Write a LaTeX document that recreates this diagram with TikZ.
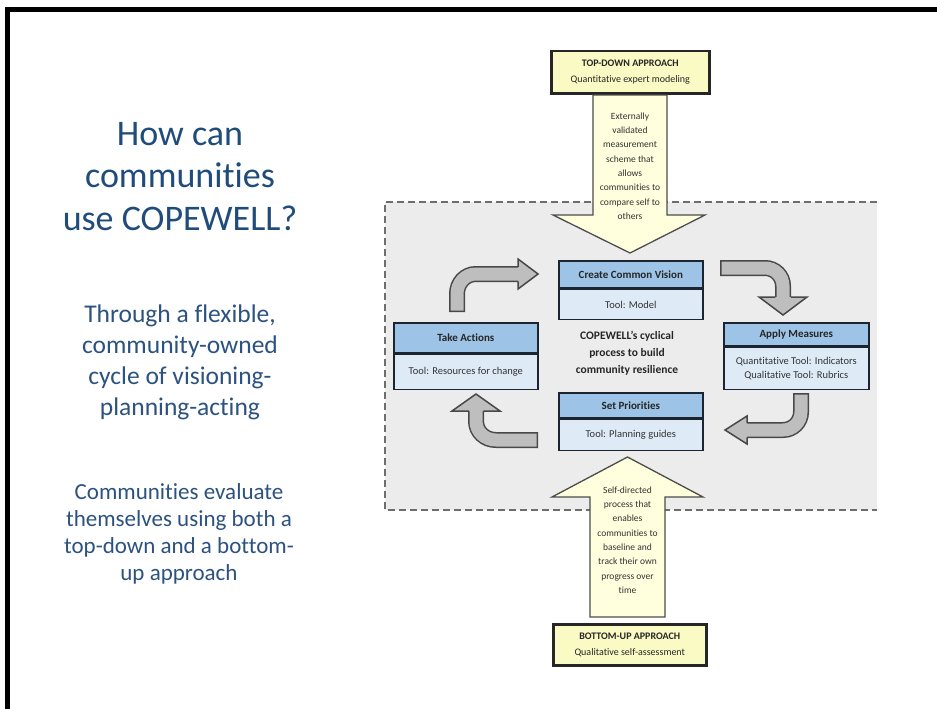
\documentclass[tikz,border=0pt]{standalone}
\usepackage{fontspec}
\setmainfont{Carlito}[Ligatures=NoCommon]
\definecolor{titleblue}{RGB}{31,76,122}
\definecolor{textblue}{RGB}{44,82,128}
\definecolor{hdrblue}{RGB}{157,195,230}
\definecolor{bodyblue}{RGB}{222,235,247}
\definecolor{boxline}{RGB}{28,36,48}
\definecolor{cream}{RGB}{255,255,222}
\definecolor{ylw}{RGB}{250,250,196}
\definecolor{regiongray}{RGB}{236,236,236}
\definecolor{dashgray}{RGB}{110,110,110}
\definecolor{arrowgray}{RGB}{190,190,190}
\definecolor{arrowline}{RGB}{72,72,72}
\tikzset{
  titletext/.style={font=\fontsize{36}{43}\selectfont, text=titleblue, inner sep=0pt},
  subtext/.style={font=\fontsize{25.5}{31}\selectfont, text=textblue, inner sep=0pt},
  paratext/.style={font=\fontsize{23}{27}\selectfont, text=textblue, inner sep=0pt},
  hdr/.style={draw=boxline, line width=1.6pt, fill=hdrblue, inner sep=0pt, minimum width=144, font=\fontsize{11}{13}\selectfont\bfseries, text=black!85},
  bdy/.style={draw=boxline, line width=1.6pt, fill=bodyblue, inner sep=0pt, minimum width=144, align=center, font=\fontsize{10.5}{14}\selectfont, text=black!80},
  ybox/.style={draw=black!85, line width=2.5pt, fill=ylw, inner sep=0pt, align=center, font=\fontsize{10}{16}\selectfont, text=black!85},
  bigarrow/.style={draw=black!70, line width=1.3pt, fill=cream, line join=miter},
  arrowtext/.style={align=center, font=\fontsize{9.5}{14.3}\selectfont, inner sep=0pt, text=black!80},
  centertext/.style={align=center, font=\fontsize{11.5}{17}\selectfont\bfseries, inner sep=0pt, text=black!85},
  shaftout/.style={line width=16pt, draw=arrowline},
  shaftin/.style={line width=13pt, draw=arrowgray, shorten <=1.5pt},
  headline/.style={draw=arrowline, line width=1.5pt, line join=miter},
  dashline/.style={draw=dashgray, line width=1.5pt, dash pattern=on 7pt off 4pt}
}
\begin{document}
\begin{tikzpicture}[x=1pt,y=-1pt]
\useasboundingbox (0,0) rectangle (937,709);
\fill[white] (0,0) rectangle (937,709);
% slide frame
\draw[line width=4.5pt, line join=miter] (940,9.5) -- (7.5,9.5) -- (7.5,712);

% left texts
\foreach \t [count=\i from 0] in {How can, communities, use COPEWELL?}
  \node[titletext, anchor=base] (title\i) at (180,{145+42.5*\i}) {\t};
\foreach \t [count=\i from 0] in {{Through a flexible,}, community-owned, cycle of visioning-, planning-acting}
  \node[subtext, anchor=base] (sub\i) at (180,{322+31*\i}) {\t};
\foreach \t [count=\i from 0] in {Communities evaluate, themselves using both a, top-down and a bottom-, up approach}
  \node[paratext, anchor=base] (para\i) at (179,{499+27*\i}) {\t};

% dashed region
\fill[regiongray] (385,202) rectangle (877,510);
\draw[dashline] (877,202) -- (385,202) -- (385,510) -- (877,510);

% top-down
\node[ybox, minimum width=158, minimum height=42, anchor=north west] (topbox) at (550,50)
  {\textbf{TOP-DOWN APPROACH}\\Quantitative expert modeling};
\draw[bigarrow] (593,95) -- (667,95) -- (667,215) -- (705,215) -- (630,253) -- (553,215) -- (593,215) -- cycle;
\node[arrowtext] (tdtext) at (630,166)
  {Externally\\validated\\measurement\\scheme that\\allows\\communities to\\compare self to\\others};

% bottom-up
\draw[bigarrow] (590,617) -- (665,617) -- (665,497) -- (703,497) -- (627.5,457) -- (552,497) -- (590,497) -- cycle;
\node[arrowtext] (butext) at (627.5,540)
  {Self-directed\\process that\\enables\\communities to\\baseline and\\track their own\\progress over\\time};
\node[ybox, minimum width=153, minimum height=41, anchor=north west] (botbox) at (552,623)
  {\textbf{BOTTOM-UP APPROACH}\\Qualitative self-assessment};

% cycle boxes
\node[hdr, minimum height=27, anchor=north west] (ccvh) at (558,260) {Create Common Vision};
\node[bdy, minimum height=30, anchor=north] (ccvb) at (ccvh.south) {Tool: Model};

\node[hdr, minimum height=30, anchor=north west] (tah) at (393,322) {Take Actions};
\node[bdy, minimum height=35, anchor=north] (tab) at (tah.south) {Tool: Resources for change};

\node[hdr, minimum width=145, minimum height=23, anchor=north west] (amh) at (723,322) {Apply Measures};
\node[bdy, minimum width=145, minimum height=42, anchor=north] (amb) at (amh.south) {Quantitative Tool: Indicators\\Qualitative Tool: Rubrics};

\node[hdr, minimum height=25, anchor=north west] (sph) at (558,392) {Set Priorities};
\node[bdy, minimum height=31, anchor=north] (spb) at (sph.south) {Tool: Planning guides};

\node[centertext] (ctext) at (627,353) {COPEWELL's cyclical\\process to build\\community resilience};

% curved block arrows
% A: Take Actions -> Create Common Vision
\coordinate (aS) at (457,312);
\coordinate (aE) at (519,274);
\draw[shaftout] (aS) -- (457,294) .. controls (457,283) and (465,274) .. (476,274) -- (aE);
\draw[shaftin]  (aS) -- (457,294) .. controls (457,283) and (465,274) .. (476,274) -- (aE);
\fill[arrowgray] (518,259) -- (538,274) -- (518,289) -- cycle;
\draw[headline] (518,266.75) -- (518,259) -- (538,274) -- (518,289) -- (518,281.25);

% B: Create Common Vision -> Apply Measures
\coordinate (bS) at (720,268);
\coordinate (bE) at (783,298);
\draw[shaftout] (bS) -- (765,268) .. controls (775,268) and (783,276) .. (783,286) -- (bE);
\draw[shaftin]  (bS) -- (765,268) .. controls (775,268) and (783,276) .. (783,286) -- (bE);
\fill[arrowgray] (759,297) -- (783,315) -- (807,297) -- cycle;
\draw[headline] (775.25,297) -- (759,297) -- (783,315) -- (807,297) -- (790.75,297);

% C: Apply Measures -> Set Priorities
\coordinate (cS) at (801,393);
\coordinate (cE) at (746,430);
\draw[shaftout] (cS) -- (801,412) .. controls (801,422) and (793,430) .. (783,430) -- (cE);
\draw[shaftin]  (cS) -- (801,412) .. controls (801,422) and (793,430) .. (783,430) -- (cE);
\fill[arrowgray] (747,416) -- (725,430) -- (747,444) -- cycle;
\draw[headline] (747,422.75) -- (747,416) -- (725,430) -- (747,444) -- (747,437.25);

% D: Set Priorities -> Take Actions
\coordinate (dS) at (538,440);
\coordinate (dE) at (476,410);
\draw[shaftout] (dS) -- (496,440) .. controls (485,440) and (476,432) .. (476,421) -- (dE);
\draw[shaftin]  (dS) -- (496,440) .. controls (485,440) and (476,432) .. (476,421) -- (dE);
\fill[arrowgray] (452,411) -- (476,394) -- (500,411) -- cycle;
\draw[headline] (468.75,411) -- (452,411) -- (476,394) -- (500,411) -- (483.25,411);
\end{tikzpicture}
\end{document}
